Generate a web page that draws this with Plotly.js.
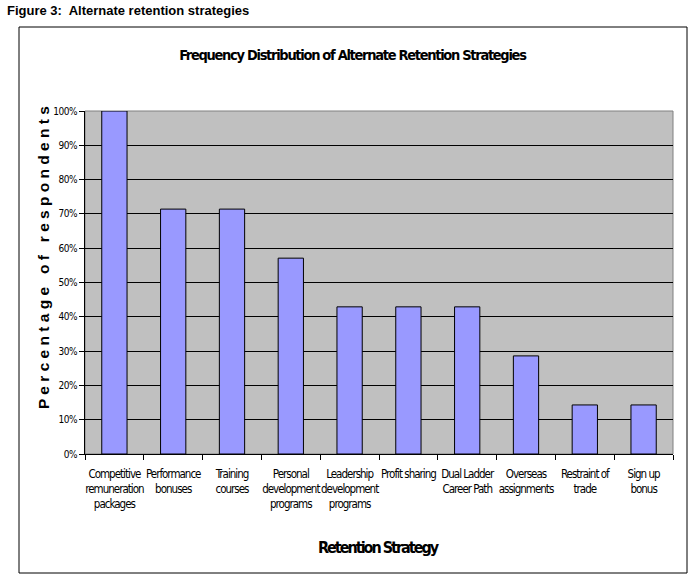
<!DOCTYPE html>
<html>
<head>
<meta charset="utf-8">
<script src="https://cdn.plot.ly/plotly-3.0.1.min.js"></script>
<style>
  html, body { margin: 0; padding: 0; background: #ffffff; }
  #chart { width: 695px; height: 579px; }
  #chart text { font-stretch: condensed; }
  #chart .xtick text { letter-spacing: -1px; }
  #chart .ytick text { letter-spacing: -0.5px; }
  #chart .gtitle { letter-spacing: -1.3px; }
  #chart g.annotation[data-index="1"] text { letter-spacing: -2px; }
</style>
</head>
<body>
<div id="chart"></div>
<script>
const categories = [
  "Competitive<br>remuneration<br>packages",
  "Performance<br>bonuses",
  "Training<br>courses",
  "Personal<br>development<br>programs",
  "Leadership<br>development<br>programs",
  "Profit sharing",
  "Dual Ladder<br>Career Path",
  "Overseas<br>assignments",
  "Restraint of<br>trade",
  "Sign up<br>bonus"
];
const percentages = [1.0, 0.714, 0.714, 0.571, 0.429, 0.429, 0.429, 0.286, 0.143, 0.143];
const yTickValues = [0, 0.1, 0.2, 0.3, 0.4, 0.5, 0.6, 0.7, 0.8, 0.9, 1.0];

const narrow = "'DejaVu Sans Condensed', 'Liberation Sans Narrow', 'Arial Narrow', sans-serif";

const trace = {
  type: "bar",
  x: categories,
  y: percentages,
  marker: { color: "#9999FF", line: { color: "#000000", width: 1 } },
  hoverinfo: "x+y"
};

const layout = {
  width: 695,
  height: 579,
  margin: { l: 85, r: 22, t: 111, b: 125 },
  paper_bgcolor: "#ffffff",
  plot_bgcolor: "#C0C0C0",
  showlegend: false,
  bargap: 0.57,
  font: { family: narrow, color: "#000000", size: 11 },
  title: {
    text: "<b>Frequency Distribution of Alternate Retention Strategies</b>",
    font: { family: narrow, size: 14.5, color: "#000000" },
    x: 0.507, xref: "container", xanchor: "center",
    y: 0.905, yref: "container", yanchor: "middle"
  },
  xaxis: {
    type: "category",
    showgrid: false,
    showline: true, linecolor: "#000000", linewidth: 1,
    ticks: "outside", ticklen: 5, tickcolor: "#000000",
    tickson: "boundaries",
    ticklabelstandoff: 9,
    tickfont: { family: narrow, size: 11.5, color: "#000000" },
    tickangle: 0,
    zeroline: false
  },
  yaxis: {
    range: [0, 1],
    tickvals: yTickValues,
    tickformat: ".0%",
    showgrid: true, gridcolor: "#000000", gridwidth: 1,
    showline: true, linecolor: "#000000", linewidth: 1,
    ticks: "outside", ticklen: 5, tickcolor: "#000000",
    tickfont: { family: narrow, size: 10, color: "#000000" },
    zeroline: false
  },
  shapes: [
    { type: "rect", xref: "paper", yref: "paper", x0: 0, x1: 1, y0: 0, y1: 1,
      line: { color: "#808080", width: 1 }, fillcolor: "rgba(0,0,0,0)", layer: "below" },
    { type: "rect", xref: "paper", yref: "paper",
      x0: (19 - 85) / 588, x1: (687 - 85) / 588,
      y0: (454 - 573) / 343, y1: (454 - 27) / 343,
      line: { color: "#000000", width: 1 }, fillcolor: "rgba(0,0,0,0)" }
  ],
  annotations: [
    { text: "<b>Figure 3:  Alternate retention strategies</b>",
      xref: "paper", yref: "paper",
      x: (5 - 85) / 588, y: (454 - 10) / 343,
      xanchor: "left", yanchor: "middle", showarrow: false,
      font: { family: "'Liberation Sans', Arial, sans-serif", size: 13, color: "#000000" } },
    { text: "<b>Retention Strategy</b>",
      xref: "paper", yref: "paper",
      x: (378 - 85) / 588, y: (454 - 547) / 343,
      xanchor: "center", yanchor: "middle", showarrow: false,
      font: { family: narrow, size: 16, color: "#000000" } },
    { text: "<b>P e r c e n t a g e   o f   r e s p o n d e n t s</b>",
      xref: "paper", yref: "paper",
      x: (43 - 85) / 588, y: (454 - 258) / 343,
      xanchor: "center", yanchor: "middle", showarrow: false, textangle: -90,
      font: { family: "'Liberation Sans', Arial, sans-serif", size: 15.5, color: "#000000" } }
  ]
};

Plotly.newPlot("chart", [trace], layout, { displayModeBar: false, staticPlot: true });
</script>
</body>
</html>
